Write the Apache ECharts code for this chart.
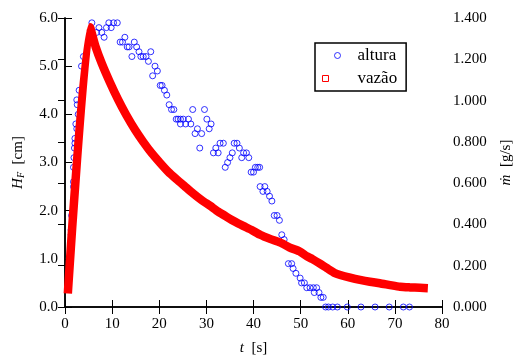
<!DOCTYPE html>
<html>
<head>
<meta charset="utf-8">
<script src="https://cdn.jsdelivr.net/npm/echarts@6/dist/echarts.min.js"></script>
<style>html,body{margin:0;padding:0;background:#fff;}#c{width:515px;height:355px;}</style>
</head>
<body>
<div id="c"></div>
<script>
// altura (cm) vs t (s)
const tAltura = [1.3,1.3,1.4,1.8,1.8,1.8,1.9,2.0,2.1,2.1,2.5,2.3,2.8,2.6,2.5,3.0,3.5,3.9,5.7,
6.7,7.2,7.8,8.3,8.8,9.3,9.8,10.3,11.1,11.7,12.2,12.7,13.2,13.6,14.2,14.7,15.2,15.7,16.1,16.6,17.2,17.7,18.2,18.6,19.1,19.6,
20.2,20.6,21.1,21.6,22.1,22.6,23.1,23.6,24.0,24.5,25.1,26.2,24.5,25.6,26.7,27.1,27.6,28.1,28.6,29.0,29.6,30.1,30.6,31.0,
31.5,32.0,32.5,32.9,33.6,34.0,34.5,35.0,35.5,35.9,36.5,37.0,37.5,37.9,38.5,39.0,39.5,40.0,40.4,40.9,41.3,41.4,42.0,42.4,
42.9,43.4,43.9,44.4,45.0,45.5,46.0,46.5,47.4,48.1,48.4,49.0,49.9,50.2,50.8,51.3,52.0,52.7,53.4,52.9,53.9,54.3,54.8,
55.3,55.9,56.8,57.8,59.9,62.8,65.8,68.8,71.8,73.1];
const hAltura = [1.5,1.6,1.9,2.5,2.6,2.9,3.1,3.3,3.4,3.5,3.7,3.8,4.0,4.2,4.3,4.5,5.0,5.2,5.9,
5.7,5.8,5.7,5.6,5.8,5.9,5.8,5.9,5.9,5.5,5.5,5.6,5.4,5.4,5.2,5.5,5.4,5.3,5.2,5.2,5.2,5.1,5.3,4.8,5.0,4.9,
4.6,4.6,4.5,4.4,4.2,4.1,4.1,3.9,3.9,3.9,3.9,3.9,3.8,3.8,3.8,4.1,3.6,3.7,3.3,3.6,4.1,3.9,3.7,3.8,
3.2,3.3,3.2,3.4,3.4,2.9,3.0,3.1,3.2,3.4,3.4,3.3,3.1,3.2,3.2,3.1,2.8,2.8,2.9,2.9,2.9,2.5,2.4,2.5,
2.4,2.3,2.2,1.9,1.9,1.8,1.5,1.4,0.9,0.9,0.8,0.7,0.6,0.5,0.5,0.4,0.4,0.4,0.4,0.3,0.3,0.2,0.2,
0,0,0,0,0,0,0,0,0,0];
// vazão (g/s) vs t (s)
const tVazao = [0.6,5.3,6.5,7.8,9.5,11.3,13.0,14.9,16.6,18.4,20.1,21.9,23.7,25.5,27.2,29.0,30.8,32.5,34.3,36.1,37.8,39.6,
41.4,43.5,45.6,47.7,49.9,51.3,52.5,54.1,55.6,57.2,58.4,60.5,62.6,64.7,66.8,69.0,71.1,73.2,75.3,77.0];
const mVazao = [0.065,1.355,1.26,1.18,1.09,1.003,0.93,0.857,0.80,0.745,0.70,0.655,0.618,0.583,0.55,0.518,0.49,0.462,0.437,0.413,0.393,0.373,
0.350,0.330,0.313,0.288,0.268,0.246,0.232,0.210,0.188,0.165,0.155,0.142,0.131,0.122,0.115,0.106,0.098,0.095,0.093,0.091];
const xTicks = [0,10,20,30,40,50,60,70,80];

const FONT = 'Liberation Serif, DejaVu Serif, serif';
const chart = echarts.init(document.getElementById('c'), null, {renderer:'canvas'});
const axisLine = {show:true, lineStyle:{color:'#000', width:1.5}};
const tick = {show:true, inside:true, length:7, lineStyle:{color:'#000', width:1}};
const lbl = {color:'#000', fontFamily:FONT, fontSize:15};
chart.setOption({
  animation:false,
  backgroundColor:'#fff',
  grid:{left:65, right:73, top:18, bottom:48, containLabel:false, outerBoundsMode:'none'},
  legend:{
    left:315, top:43, orient:'vertical',
    backgroundColor:'#fff', borderColor:'#000', borderWidth:1.5, borderRadius:0,
    padding:[4,9,4,7], itemGap:6, itemWidth:30, itemHeight:6,
    textStyle:{color:'#000', fontFamily:FONT, fontSize:17, lineHeight:16},
    data:[
      {name:'altura', icon:'circle', itemStyle:{color:'transparent', borderColor:'#0000ff', borderWidth:1}},
      {name:'vazão', icon:'square', itemStyle:{color:'transparent', borderColor:'#ff0000', borderWidth:1}}
    ]
  },
  xAxis:[
    {type:'value', min:0, max:80, interval:10, position:'bottom',
     axisLine, axisTick:tick, splitLine:{show:false},
     axisLabel:Object.assign({margin:10, formatter:v=>xTicks.includes(v)?String(v):''}, lbl),
     name:'{i|t}  [s]', nameLocation:'middle', nameGap:34,
     nameTextStyle:{color:'#000', fontFamily:FONT, fontSize:15, rich:{i:{fontStyle:'italic', fontFamily:FONT, fontSize:15}}}},
    {type:'value', min:0, max:80, interval:10, position:'top',
     axisLine, axisTick:tick, splitLine:{show:false}, axisLabel:{show:false}}
  ],
  yAxis:[
    {type:'value', min:0, max:6, interval:1, position:'left',
     axisLine, axisTick:tick, splitLine:{show:false},
     axisLabel:Object.assign({margin:7, formatter:v=>v.toFixed(1)}, lbl),
     name:'{i|H}{s|F}  [cm]', nameLocation:'middle', nameGap:39, nameRotate:90,
     nameTextStyle:{color:'#000', fontFamily:FONT, fontSize:15,
       rich:{i:{fontStyle:'italic', fontFamily:FONT, fontSize:15}, s:{fontStyle:'italic', fontFamily:FONT, fontSize:10, padding:[6,0,0,0]}}}},
    {type:'value', min:0, max:1.4, interval:0.2, position:'right',
     axisLine, axisTick:tick, splitLine:{show:false},
     axisLabel:Object.assign({margin:11, formatter:v=>v.toFixed(3)}, lbl),
     name:'{i|ṁ}  [g/s]', nameLocation:'middle', nameGap:57, nameRotate:90,
     nameTextStyle:{color:'#000', fontFamily:FONT, fontSize:15, rich:{i:{fontStyle:'italic', fontFamily:FONT, fontSize:15}}}}
  ],
  series:[
    {name:'altura', type:'scatter', xAxisIndex:0, yAxisIndex:0, z:2,
     symbol:'circle', symbolSize:6,
     itemStyle:{color:'transparent', borderColor:'#0000ff', borderWidth:1},
     data:tAltura.map((t,i)=>[t,hAltura[i]])},
    {name:'vazão', type:'line', xAxisIndex:0, yAxisIndex:1, z:3,
     showSymbol:false, symbol:'square', smooth:0.2,
     lineStyle:{color:'#ff0000', width:8.5, cap:'butt', join:'round'},
     itemStyle:{color:'#ff0000'},
     data:tVazao.map((t,i)=>[t,mVazao[i]])}
  ]
});
</script>
</body>
</html>
